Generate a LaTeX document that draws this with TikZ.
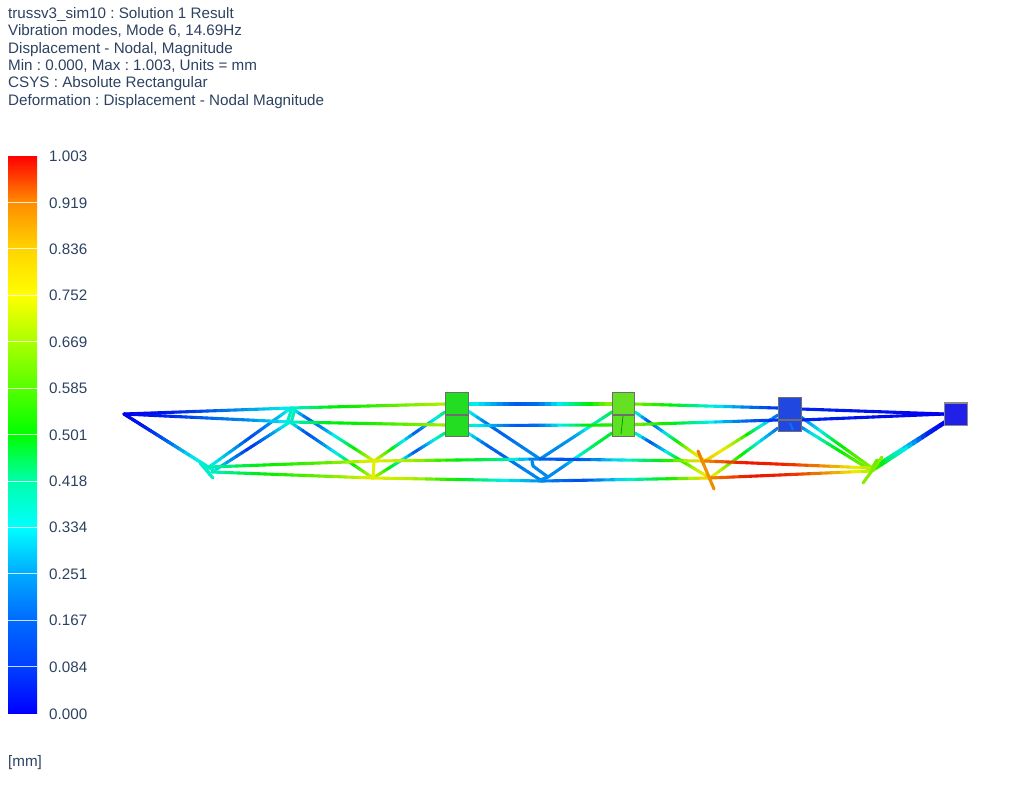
\documentclass[tikz,border=0pt]{standalone}
\usepackage{fontspec}
\setmainfont{Liberation Sans}
\usetikzlibrary{calc}
\frenchspacing
\definecolor{captioncol}{HTML}{2C4260}
\definecolor{blockline}{HTML}{6E6E6E}
\definecolor{blockA}{HTML}{22DD22}
\definecolor{blockB}{HTML}{66E022}
\definecolor{blockC}{HTML}{2048E0}
\definecolor{blockD}{HTML}{2020E8}
% one truss member from node to node, hues (degrees) spaced evenly along it
\newcommand{\trussbar}[3]{
	\foreach \hh [count=\nn] in {#3} {\xdef\nstops{\nn}}
	\foreach \hh [count=\ii from 0,remember=\hh as \hold (initially 0)] in {#3} {
		\ifnum\ii>0
		\foreach \ss in {1,...,4} {
			\pgfmathsetmacro{\ta}{(\ii-1+(\ss-1)/4)/(\nstops-1)}
			\pgfmathsetmacro{\tb}{(\ii-1+\ss/4)/(\nstops-1)}
			\pgfmathsetmacro{\hc}{\hold+(\hh-\hold)*(\ss-.5)/4}
			\definecolor{barcol}{Hsb}{\hc,1,0.93}
			\draw[bar line,barcol] ($(#1)!\ta!(#2)$) -- ($(#1)!\tb!(#2)$);
		}
		\fi
	}
}
\begin{document}
\begin{tikzpicture}[x=1pt,y=-1pt,
	  bar line/.style={line width=3.1pt,line cap=round},
	  caption text/.style={anchor=base west,inner sep=0pt,text=captioncol,font=\fontsize{15.2}{16}\selectfont},
	  block node/.style={rectangle,draw=blockline,line width=1.1pt,inner sep=0pt}]
	\useasboundingbox (0,0) rectangle (1035,788);

	% caption
	\foreach \ll/\yy/\txt in {1/18.2/{trussv3\_sim10 : Solution 1 Result},
	    2/35.6/{Vibration modes, Mode 6, 14.69Hz},
	    3/53/{Displacement - Nodal, Magnitude},
	    4/70.4/{Min : 0.000, Max : 1.003, Units = mm},
	    5/87.8/{CSYS : Absolute Rectangular},
	    6/105.2/{Deformation : Displacement - Nodal Magnitude}}
	  \node[caption text] (line\ll) at (8,\yy) {\txt};

	% colour bar
	\foreach \kk/\hup/\hdown/\val [evaluate=\kk as \ytop using 156+46.42*\kk] in
	    {0/0/33/1.003,1/33/50/0.919,2/50/60/0.836,3/60/80/0.752,4/80/100/0.669,5/100/120/0.585,
	     6/120/160/0.501,7/160/180/0.418,8/180/200/0.334,9/200/215/0.251,10/215/225/0.167,11/225/240/0.084} {
	  \definecolor{bandup}{Hsb}{\hup,1,1}
	  \definecolor{banddown}{Hsb}{\hdown,1,1}
	  \shade[top color=bandup,bottom color=banddown] (8,\ytop) rectangle (37,\ytop+46.42);
	  \ifnum\kk>0 \draw[white,line width=.8pt,opacity=.8] (8,\ytop) -- (37,\ytop); \fi
	  \node[caption text] (val\kk) at (49,\ytop+5.6) {\val};
	}
	\node[caption text] (val12) at (49,719.2) {0.000};
	\node[caption text] (unit) at (8,766) {[mm]};

	% truss points
	\foreach \nm/\xx/\yy in {apex/124/414,
	    ta/291/408,tb/290/422,tc/445/404,td/445/425,te/612/404,tf/612/425,
	    tg/635/404,th/635/424.5,ti/778/408,tj/778/420,tk/801/409,tl/801/420,tm/945/414,
	    tcr/468/404,tdr/468/425.5,
	    wa/209/467,wb/212/472,na/374/461,nb/373/478,ca/540/459,cb/542/481,
	    da/705/461,db/710/478,ea/872/468,eb/872/471,
	    ka/445/412,kb/445/433,kc/468/411,kd/468/433,ke/612/412,kf/612/433,kg/635/412,kh/635/433,
	    la/778/415,lb/778/428,lc/801/417,ld/801/427,me/945/421.5,mf/945/423,
	    wc/205/465,wd/213/470,we/200/463,wf/213/478,wg/205/466,wh/210/475,
	    sa/292/408,sb/287/423,sc/295/409,sd/291/423,
	    hka/532/461,hkb/533/466,hkc/548/477,hkd/538/481,
	    pa/698/451,pb/714/489,qa/882/457,qb/863/483,qc/877/460,qd/872/468,
	    ba/623/416,bb/621/434,bc/790/423,bd/793/430}
	  \coordinate (\nm) at (\xx,\yy);

	% web members
	\trussbar{apex}{wc}{240,235,215,190,172}
	\trussbar{apex}{wd}{240,232,215,185,170}
	\trussbar{wa}{ta}{175,195,222,205,175}
	\trussbar{wb}{tb}{175,205,228,205,172}
	\trussbar{ta}{na}{170,215,205,165,110,60}
	\trussbar{tb}{nb}{170,222,205,170,110,65}
	\trussbar{na}{ka}{62,100,175,218,190,150}
	\trussbar{nb}{kb}{62,110,175,220,190,150}
	\trussbar{kc}{ca}{170,212,215,208,205}
	\trussbar{kd}{cb}{175,215,215,208,205}
	\trussbar{ca}{ke}{205,205,200,170,140}
	\trussbar{hkc}{kf}{205,205,175,140,130}
	\trussbar{kg}{da}{165,220,195,120,70,55}
	\trussbar{kh}{db}{160,220,190,120,75,50}
	\trussbar{da}{la}{50,60,90,170,215}
	\trussbar{db}{lb}{50,85,120,185,212}
	\trussbar{lc}{ea}{212,185,130,100,85}
	\trussbar{ld}{eb}{210,170,125,100,85}
	\trussbar{ea}{me}{85,160,195,228,240}
	\trussbar{eb}{mf}{85,150,185,230,240}
	\trussbar{hka}{hkb}{205,205}
	\trussbar{hkb}{hkc}{205,205}
	\trussbar{hkc}{hkd}{205,205}
	\trussbar{sa}{sb}{172,165}
	\trussbar{sc}{sd}{172,165}
	\trussbar{we}{wf}{175,172}
	\trussbar{wg}{wh}{172,170}

	% chords
	\trussbar{apex}{ta}{240,235,220,200,178}
	\trussbar{apex}{tb}{240,232,215,205,178}
	\trussbar{ta}{tc}{178,125,110,90,75}
	\trussbar{tb}{td}{175,125,115,95,80}
	\trussbar{tcr}{te}{170,195,218,212,175,125,80}
	\trussbar{tdr}{tf}{165,195,218,212,175,120,110}
	\trussbar{tg}{ti}{90,120,170,205,228}
	\trussbar{th}{tj}{90,120,175,212,228}
	\trussbar{tk}{tm}{230,236,240}
	\trussbar{tl}{tm}{230,236,240}
	\trussbar{wa}{na}{170,120,100,62}
	\trussbar{wb}{nb}{170,120,95,62}
	\trussbar{na}{ca}{62,80,120,150,215}
	\trussbar{nb}{cb}{62,75,120,175,205}
	\trussbar{ca}{da}{215,220,180,120,45}
	\trussbar{cb}{db}{205,222,180,120,45}
	\trussbar{da}{ea}{35,5,10,40,75}
	\trussbar{db}{eb}{35,5,10,40,75}

	% struts
	\trussbar{pa}{pb}{30,38,35}
	\trussbar{na}{nb}{62,62}
	\trussbar{qa}{qb}{85,88,85}
	\trussbar{qc}{qd}{95,90}

	% blocks
	\node[block node,fill=blockA,minimum width=22.5pt,minimum height=22.5pt] (blocka) at (457,403.7) {};
	\node[block node,fill=blockA,minimum width=22.5pt,minimum height=21.5pt] (blockb) at (457,425.7) {};
	\node[block node,fill=blockB,minimum width=22.5pt,minimum height=22.5pt] (blockc) at (623.5,403.7) {};
	\node[block node,fill=blockB!90!green,minimum width=22.5pt,minimum height=21.5pt] (blockd) at (623.5,425.7) {};
	\node[block node,fill=blockC,minimum width=22.5pt,minimum height=12pt] (blocke) at (790,425.7) {};
	\node[block node,fill=blockC,minimum width=23pt,minimum height=22.5pt] (blockf) at (790,408.7) {};
	\node[block node,fill=blockD,draw=blockline!80,minimum width=22.5pt,minimum height=22.5pt] (blockg) at (956,414.2) {};
	\draw[line width=.7pt,green!55!black] (ba) -- (bb);
	\draw[line width=2pt,blue!55!cyan] (bc) -- (bd);
\end{tikzpicture}
\end{document}
